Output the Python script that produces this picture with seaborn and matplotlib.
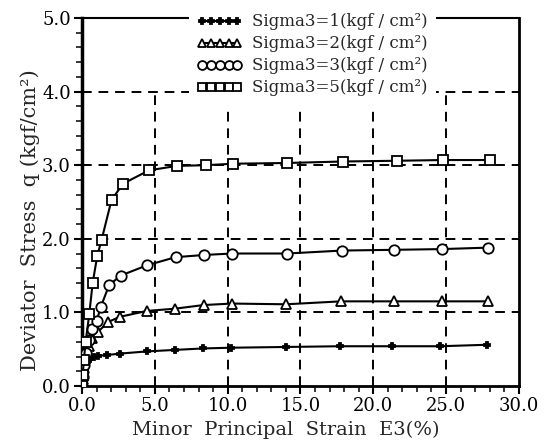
import numpy as np
import pandas as pd
import matplotlib
matplotlib.use("Agg")
import matplotlib.pyplot as plt
from matplotlib.ticker import MultipleLocator, FormatStrFormatter
import seaborn as sns

# ---- data ----
labels = ["Sigma3=1(kgf / cm²)", "Sigma3=2(kgf / cm²)", "Sigma3=3(kgf / cm²)", "Sigma3=5(kgf / cm²)"]

strain_s1 = [0, 0.05, 0.1, 0.2, 0.35, 0.55, 0.8, 1.1, 1.69, 2.6, 4.47, 6.37, 8.3, 10.25, 14.0, 17.7, 21.3, 24.6, 27.8]
q_s1 = [0, 0.08, 0.16, 0.25, 0.32, 0.36, 0.39, 0.41, 0.42, 0.44, 0.47, 0.49, 0.51, 0.52, 0.53, 0.54, 0.54, 0.54, 0.56]

strain_s2 = [0, 0.05, 0.12, 0.25, 0.45, 0.7, 1.12, 1.8, 2.6, 4.47, 6.37, 8.36, 10.3, 14.0, 17.8, 21.4, 24.7, 27.9]
q_s2 = [0, 0.1, 0.25, 0.4, 0.55, 0.65, 0.74, 0.87, 0.94, 1.02, 1.05, 1.10, 1.12, 1.11, 1.15, 1.15, 1.15, 1.15]

strain_s3 = [0, 0.05, 0.12, 0.25, 0.45, 0.7, 1.0, 1.28, 1.86, 2.65, 4.47, 6.42, 8.38, 10.3, 14.1, 17.85, 21.4, 24.7, 27.9]
q_s3 = [0, 0.12, 0.28, 0.45, 0.62, 0.77, 0.88, 1.07, 1.37, 1.50, 1.64, 1.75, 1.78, 1.80, 1.80, 1.84, 1.85, 1.86, 1.88]

strain_s5 = [0, 0.05, 0.12, 0.25, 0.5, 0.73, 1.05, 1.35, 2.03, 2.83, 4.6, 6.5, 8.5, 10.4, 14.1, 17.9, 21.6, 24.8, 28.0]
q_s5 = [0, 0.15, 0.35, 0.6, 0.98, 1.40, 1.77, 1.99, 2.53, 2.75, 2.93, 2.99, 3.0, 3.02, 3.03, 3.05, 3.06, 3.07, 3.07]

x_ticks = [0, 5, 10, 15, 20, 25, 30]
y_ticks = [0, 1, 2, 3, 4, 5]

series = [
    (strain_s1, q_s1, labels[0], "P", "black", 5),
    (strain_s2, q_s2, labels[1], "^", "white", 6.5),
    (strain_s3, q_s3, labels[2], "o", "white", 7.5),
    (strain_s5, q_s5, labels[3], "s", "white", 7),
]

sns.set_style("ticks")
plt.rcParams["font.family"] = ["DejaVu Serif"]

fig = plt.figure(figsize=(5.45, 4.43), dpi=100)
ax = fig.add_axes([0.1505, 0.1287, 0.8015, 0.8307])

dash = (0, (5, 3.5))
for v in x_ticks[1:-1]:
    ax.vlines(v, 0, 4, color="black", lw=1.4, ls=dash, zorder=1)
for h in y_ticks[1:-1]:
    ax.axhline(h, color="black", lw=1.4, ls=dash, zorder=1)

for xs, ys, lab, mk, fc, ms in series:
    df = pd.DataFrame({"strain": xs, "q": ys})
    sns.lineplot(data=df, x="strain", y="q", ax=ax, color="black", lw=1.5,
                 marker=mk, markersize=ms, markerfacecolor=fc,
                 markeredgecolor="black", markeredgewidth=1.3,
                 label=lab, zorder=3)

ax.set_xlim(0, 30)
ax.set_ylim(0, 5)
ax.set_xticks(x_ticks)
ax.set_yticks(y_ticks)
ax.xaxis.set_minor_locator(MultipleLocator(1))
ax.yaxis.set_minor_locator(MultipleLocator(0.2))
ax.xaxis.set_major_formatter(FormatStrFormatter("%.1f"))
ax.yaxis.set_major_formatter(FormatStrFormatter("%.1f"))
ax.tick_params(which="major", length=6, width=1.5, labelsize=13, pad=2, colors="black")
ax.tick_params(which="minor", length=4, width=1.3)

for side, lw in [("left", 2.5), ("bottom", 2.0), ("top", 1.5), ("right", 2.0)]:
    ax.spines[side].set_visible(True)
    ax.spines[side].set_linewidth(lw)
    ax.spines[side].set_color("black")

ax.set_xlabel("Minor  Principal  Strain  E3(%)", fontsize=14)
ax.xaxis.set_label_coords(0.467, -0.095)
ax.set_ylabel("Deviator  Stress  q (kgf/cm²)", fontsize=15)
ax.yaxis.set_label_coords(-0.097, 0.45)

handles, labs = ax.get_legend_handles_labels()
leg = ax.legend(handles, labs, loc="upper left", bbox_to_anchor=(0.245, 1.035),
                numpoints=5, handlelength=2.7, handletextpad=0.55,
                labelspacing=0.3, borderpad=0.5, frameon=True, markerscale=0.85,
                fontsize=12, borderaxespad=0.0, fancybox=False)
frame = leg.get_frame()
frame.set_facecolor("white")
frame.set_edgecolor("white")
frame.set_alpha(None)
frame.set_linewidth(0)
leg.set_zorder(5)

fig.savefig("out.png", dpi=100)
